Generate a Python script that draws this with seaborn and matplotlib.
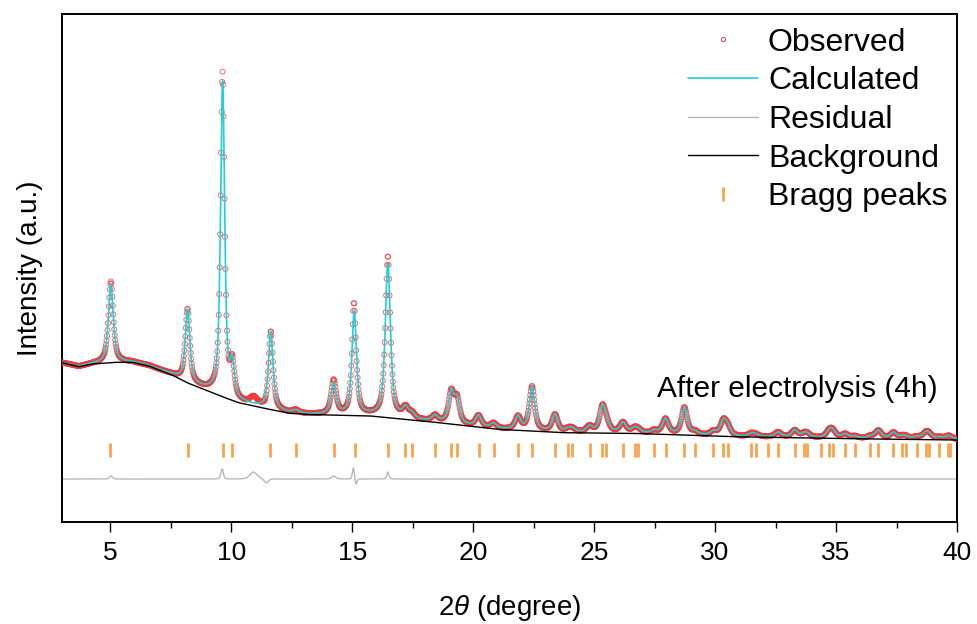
import numpy as np
import pandas as pd
import seaborn as sns
import matplotlib
matplotlib.use("Agg")
import matplotlib.pyplot as plt
from matplotlib.lines import Line2D
from matplotlib.ticker import MultipleLocator

# ---------------- data ----------------
# background (black line): 2theta, intensity (a.u.)
bg_x = [3.0, 3.7, 4.25, 5.2, 5.9, 6.6, 7.55, 8.2, 8.93, 9.6, 10.3, 11.3, 12.4,
        13.2, 14.1, 15.75, 18.2, 21.0, 23.7, 26.5, 30.7, 35.0, 40.0]
bg_y = [159.3, 155.3, 158.0, 159.7, 159.7, 156.0, 147.0, 139.0, 132.0, 125.5,
        119.3, 114.0, 108.7, 107.5, 107.0, 106.0, 100.3, 92.7, 89.3, 88.7,
        85.3, 83.5, 82.0]

# fitted (calculated) reflections: position, height above background, FWHM
peak_pos = [5.02, 8.19, 9.64, 10.04, 11.63, 12.66, 14.23, 15.08, 16.47, 17.20,
            17.47, 18.42, 19.09, 19.33, 20.22, 20.84, 21.85, 22.43, 23.38, 23.93,
            24.10, 24.81, 25.34, 25.50, 26.19, 26.67, 26.82, 27.48, 27.95, 28.73,
            29.17, 29.93, 30.34, 30.52, 31.49, 31.68, 32.60, 33.29, 33.69, 33.81,
            34.72, 34.86, 35.37, 35.77, 36.41, 36.75, 37.37, 37.74, 37.88, 38.33,
            38.71, 38.83, 39.27, 39.62, 39.70]
peak_h = [78, 73, 314, 32, 78, 3, 31, 103, 154, 10,
          5, 6, 30, 24, 11, 5, 13, 44, 17, 3,
          3, 6, 24, 8, 10, 4, 3, 3, 15, 27,
          3, 4, 14, 8, 3, 2, 5, 7, 3, 3,
          6, 6, 4, 2, 2, 8, 6, 2, 2, 2,
          5, 4, 2, 2, 2]
peak_w = [0.24, 0.22, 0.20, 0.20, 0.22, 0.30, 0.25, 0.22, 0.25, 0.28,
          0.28, 0.28, 0.26, 0.26, 0.28, 0.30, 0.28, 0.26, 0.28, 0.30,
          0.30, 0.30, 0.28, 0.30, 0.30, 0.30, 0.30, 0.30, 0.30, 0.28,
          0.30, 0.30, 0.30, 0.30, 0.30, 0.30, 0.32, 0.32, 0.32, 0.32,
          0.32, 0.32, 0.32, 0.32, 0.32, 0.32, 0.32, 0.32, 0.32, 0.32,
          0.34, 0.34, 0.34, 0.34, 0.34]

# observed minus calculated misfits: position, amplitude, FWHM
misfit_pos = [5.03, 9.62, 10.92, 11.45, 14.23, 15.05, 15.15, 16.47]
misfit_amp = [3, 10, 7, -4, 3, 12, -6, 7]
misfit_w = [0.15, 0.12, 0.35, 0.20, 0.20, 0.10, 0.10, 0.10]

# Bragg reflection markers
bragg_pos = [5.00, 8.19, 9.64, 10.04, 11.61, 12.66, 14.23, 15.11, 16.46, 17.20,
             17.47, 18.42, 19.09, 19.33, 20.22, 20.84, 21.85, 22.43, 23.38, 23.93,
             24.10, 24.81, 25.34, 25.50, 26.19, 26.67, 26.82, 27.48, 27.95, 28.73,
             29.17, 29.93, 30.34, 30.52, 31.49, 31.68, 32.20, 32.60, 33.29, 33.69,
             33.81, 34.37, 34.72, 34.86, 35.37, 35.77, 36.41, 36.75, 37.37, 37.74,
             37.88, 38.33, 38.71, 38.83, 39.27, 39.62, 39.70]
bragg_level = 72
resid_level = 43

xticks = [5, 10, 15, 20, 25, 30, 35, 40]
labels = ["Observed", "Calculated", "Residual", "Background", "Bragg peaks"]
annot = "After electrolysis (4h)"

# ---------------- profile construction ----------------
step = 0.02
tt = np.arange(3.0, 40.0 + step / 2, step)


def pv(x, p, w, eta=0.72):
    d = (x - p) / (w / 2.0)
    return eta / (1 + d ** 2) + (1 - eta) * np.exp(-np.log(2) * d ** 2)


bg = np.interp(tt, bg_x, bg_y)
calc = bg.copy()
for p, h, w in zip(peak_pos, peak_h, peak_w):
    calc += h * pv(tt, p, w)
obs = calc.copy()
for p, a, w in zip(misfit_pos, misfit_amp, misfit_w):
    obs += a * pv(tt, p, w, eta=0.3)
resid = obs - calc + resid_level

df = pd.DataFrame({"tt": tt, "obs": obs, "calc": calc, "bg": bg, "resid": resid})
dfb = pd.DataFrame({"pos": bragg_pos, "lvl": [bragg_level] * len(bragg_pos)})

# ---------------- plotting ----------------
sns.set_theme(style="white")
plt.rcParams["font.family"] = ["Liberation Sans", "DejaVu Sans"]
plt.rcParams["mathtext.fontset"] = "custom"
plt.rcParams["mathtext.it"] = "Liberation Sans:italic"
plt.rcParams["mathtext.rm"] = "Liberation Sans"
plt.rcParams["text.color"] = "black"
plt.rcParams["axes.labelcolor"] = "black"
plt.rcParams["xtick.color"] = "black"
plt.rcParams["xtick.labelcolor"] = "black"

fig = plt.figure(figsize=(9.78, 6.24), dpi=100)
ax = fig.add_axes([62 / 978, 1 - 522 / 624, (957 - 62) / 978, (522 - 14) / 624])

red = "#ee3b3b"
cyan = "#1fd0d6"
gray = "#b8b8b8"
orange = "#fba24d"

sns.lineplot(data=df, x="tt", y="resid", ax=ax, color=gray, lw=1.0,
             sort=False, estimator=None)
sns.scatterplot(data=df, x="tt", y="obs", ax=ax, marker="o", s=13,
                fc="none", ec=red, linewidth=0.7, alpha=0.75, zorder=3)
sns.lineplot(data=df, x="tt", y="calc", ax=ax, color=cyan, lw=1.2,
             sort=False, estimator=None, zorder=4)
sns.lineplot(data=df, x="tt", y="bg", ax=ax, color="black", lw=1.0,
             sort=False, estimator=None, zorder=5)
sns.scatterplot(data=dfb, x="pos", y="lvl", ax=ax, marker="|", s=110,
                color=orange, linewidth=2.0, zorder=4)

ax.set_xlim(3, 40)
ax.set_ylim(0, 508)
ax.set_yticks([])
ax.xaxis.set_major_locator(MultipleLocator(5))
ax.xaxis.set_minor_locator(MultipleLocator(2.5))
ax.set_xticks(xticks)
ax.tick_params(axis="x", which="major", direction="out", length=7, width=1.0,
               labelsize=19, pad=7, bottom=True, color="black",
               labelcolor="black")
ax.tick_params(axis="x", which="minor", direction="out", length=4, width=1.0,
               bottom=True, color="black")
for s in ax.spines.values():
    s.set_visible(True)
    s.set_color("black")
    s.set_linewidth(1.4)

ax.set_xlabel(r"2$\it{\theta}$ (degree)", fontsize=20, labelpad=20,
              color="black")
ax.set_ylabel("Intensity (a.u.)", fontsize=20, labelpad=14, color="black")

ax.text(27.6, 125, annot, fontsize=21.5, ha="left", va="baseline",
        color="black")

handles = [
    Line2D([], [], ls="none", marker="o", ms=3, mfc="none", mec=red, mew=0.7),
    Line2D([], [], color=cyan, lw=1.2),
    Line2D([], [], color=gray, lw=1.0),
    Line2D([], [], color="black", lw=1.0),
    Line2D([], [], ls="none", marker="|", ms=10, mec=orange, mew=2.0),
]
leg = ax.legend(handles, labels, loc="upper right",
                bbox_to_anchor=(1.0, 0.992),
                frameon=False, fontsize=23, handlelength=2.2,
                handletextpad=0.3, labelspacing=0.27, borderaxespad=0.2,
                borderpad=0.1)
for t in leg.get_texts():
    t.set_color("black")

fig.savefig("out.png", dpi=100)
